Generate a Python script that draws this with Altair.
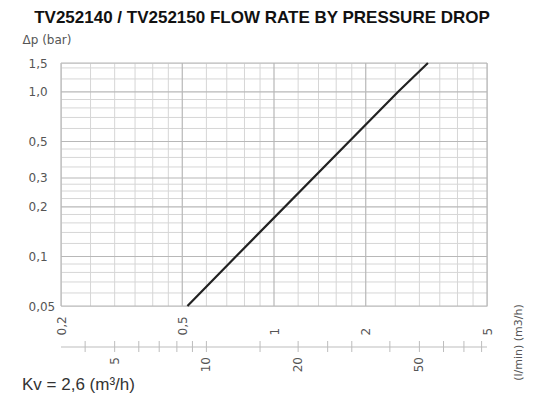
import altair as alt
import pandas as pd

# ---- data ----
flow_m3h = [0.52, 0.75, 2.55, 3.2]          # flow rate (m3/h) along the Kv line
dp_bar = [0.05, 0.1, 1.0, 1.5]               # pressure drop (bar)

x_major = [0.2, 0.5, 1, 2, 5]
x_minor = [0.25, 0.3, 0.35, 0.4, 0.45, 0.6, 0.7, 0.8, 0.9,
           1.2, 1.4, 1.6, 1.8, 2.5, 3, 3.5, 4, 4.5]
y_major = [0.05, 0.1, 0.2, 0.3, 0.5, 1.0, 1.5]
y_minor = [0.06, 0.07, 0.08, 0.09, 0.12, 0.14, 0.16, 0.18, 0.225, 0.25, 0.275,
           0.35, 0.4, 0.45, 0.6, 0.7, 0.8, 0.9, 1.2, 1.4]
lmin_labels = [5, 10, 20, 50]
lmin_ticks = [4, 5, 6, 7, 8, 9, 10, 15, 20, 25, 30, 40, 50, 60, 70, 80]

TITLE = "TV252140 / TV252150 FLOW RATE BY PRESSURE DROP"
KV_NOTE = "Kv = 2,6 (m³/h)"

W, H = 426, 243
FONT = "DejaVu Sans"
GRAY = "#555555"

xs = alt.Scale(type="log", domain=[x_major[0], x_major[-1]], nice=False)
ys = alt.Scale(type="log", domain=[y_major[0], y_major[-1]], nice=False)

xa = alt.Axis(
    values=x_major,
    labelExpr="replace(toString(datum.value), '.', ',')",
    labelAngle=270, labelAlign="left", labelBaseline="middle",
    labelPadding=29, labelFont=FONT, labelFontSize=12, labelColor=GRAY,
    ticks=False, domain=False, grid=False,
    title="(l/min)  (m3/h)", titleAngle=270, titleAlign="center",
    titleBaseline="middle", titleX=457, titleY=36,
    titleFont=FONT, titleFontSize=11, titleFontWeight="normal",
    titleColor=GRAY)
ya = alt.Axis(
    values=y_major,
    labelExpr="replace(datum.value == 1 ? '1.0' : toString(datum.value), '.', ',')",
    labelAlign="left", labelBaseline="middle", labelPadding=33,
    labelFont=FONT, labelFontSize=12, labelColor=GRAY,
    ticks=False, domain=False, grid=False,
    title="Δp (bar)", titleAngle=0, titleAlign="left",
    titleBaseline="alphabetic", titleX=-39, titleY=-20,
    titleFont=FONT, titleFontSize=12, titleFontWeight="normal",
    titleColor=GRAY)

line_df = pd.DataFrame({"q": flow_m3h, "dp": dp_bar})
vmin_df = pd.DataFrame({"q": x_minor})
vmaj_df = pd.DataFrame({"q": x_major})
hmin_df = pd.DataFrame({"dp": y_minor})
hmaj_df = pd.DataFrame({"dp": y_major})
lt_df = pd.DataFrame({"lmin": lmin_ticks})
ll_df = pd.DataFrame({"lmin": lmin_labels})
dom_df = pd.DataFrame({"q": [x_major[0]], "q2": [x_major[-1]]})
note_df = pd.DataFrame({"t": [KV_NOTE]})

X = alt.X("q:Q", scale=xs, axis=xa)
Y = alt.Y("dp:Q", scale=ys, axis=ya)

vmin = alt.Chart(vmin_df).mark_rule(color="#d6d6d6", strokeWidth=1).encode(x=X)
vmaj = alt.Chart(vmaj_df).mark_rule(color="#b8b8b8", strokeWidth=1.2).encode(x=X)
hmin = alt.Chart(hmin_df).mark_rule(color="#d6d6d6", strokeWidth=1).encode(y=Y)
hmaj = alt.Chart(hmaj_df).mark_rule(color="#b8b8b8", strokeWidth=1.2).encode(y=Y)

kv_line = alt.Chart(line_df).mark_line(color="#222222", strokeWidth=2.2).encode(x=X, y=Y)

# secondary flow axis in l/min (converted to m3/h through the same scale)
ticks2 = alt.Chart(lt_df).transform_calculate(q="datum.lmin * 60 / 1000").mark_rule(
    color="#bdbdbd", strokeWidth=1).encode(
    x=X, y=alt.value(H + 35), y2=alt.value(H + 46))
dom2 = alt.Chart(dom_df).mark_rule(color="#bdbdbd", strokeWidth=1.2).encode(
    x=X, x2="q2:Q", y=alt.value(H + 41))
labels2 = alt.Chart(ll_df).transform_calculate(q="datum.lmin * 60 / 1000").mark_text(
    angle=270, align="right", baseline="middle", font=FONT, fontSize=12,
    color=GRAY).encode(x=X, y=alt.value(H + 51), text="lmin:Q")

note = alt.Chart(note_df).mark_text(
    align="left", baseline="alphabetic", font="Liberation Sans", fontSize=17,
    color="#333333").encode(x=alt.value(-39), y=alt.value(H + 84), text="t:N")

chart = alt.layer(vmin, hmin, vmaj, hmaj, kv_line, dom2, ticks2, labels2, note).properties(
    width=W, height=H,
    title=alt.Title(TITLE, font="Liberation Sans", fontSize=17, fontWeight="bold",
                    color="#111111", anchor="middle", dx=-12, offset=6),
    autosize=alt.AutoSizeParams(type="none"),
    padding={"left": 53, "top": 55, "right": 45, "bottom": 88},
).configure_view(stroke=None).configure(background="white")

chart.save("out.html", embed_options={"renderer": "svg", "actions": False})
